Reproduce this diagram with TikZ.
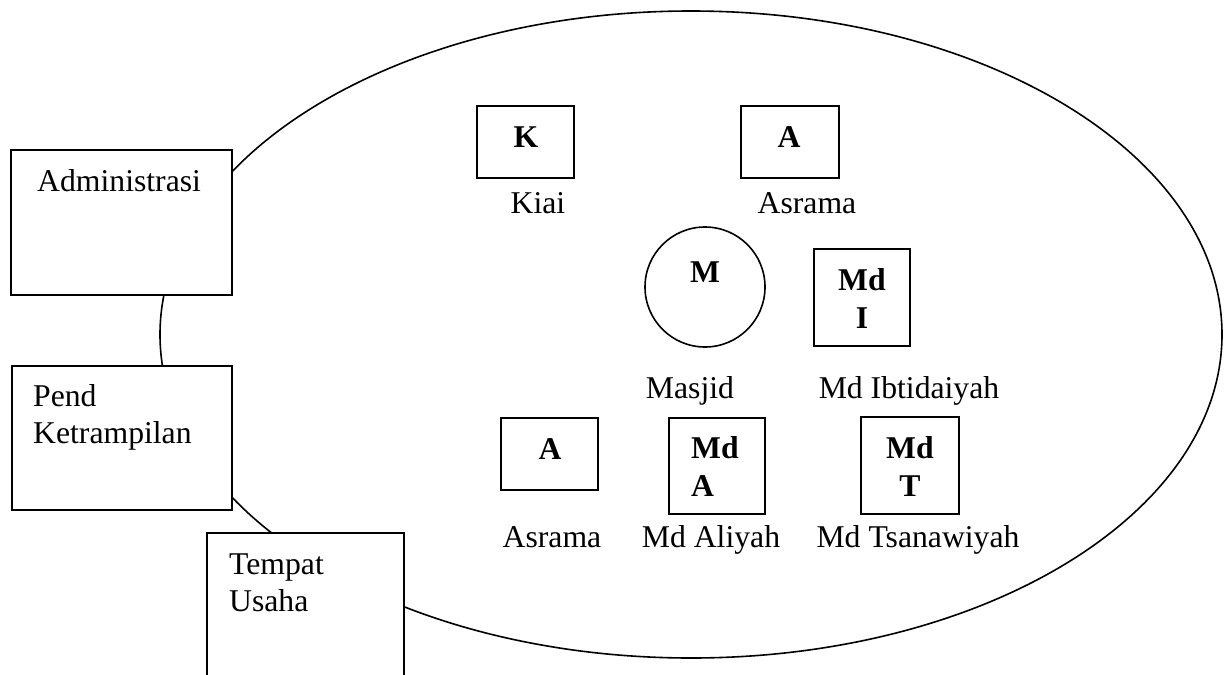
\documentclass[tikz,border=0pt]{standalone}
\usepackage{fontspec}
\setmainfont{Liberation Serif}
\usetikzlibrary{shapes.geometric}
\begin{document}
\begin{tikzpicture}[x=1pt,y=-1pt,
  outline/.style={draw, line width=1.6pt, inner sep=0pt},
  box/.style={outline, fill=white, minimum width=97pt, minimum height=72pt},
  tallbox/.style={box, minimum height=97pt},
  sidebox/.style={outline, fill=white},
  lbl/.style={inner sep=0pt, font=\fontsize{31.7}{37.5}\selectfont},
  blbl/.style={inner sep=0pt, font=\fontsize{31.7}{38}\selectfont\bfseries},
]
\useasboundingbox (0,0) rectangle (1227,675);
\clip (0,0) rectangle (1227,675);
\fill[white] (0,0) rectangle (1227,675);

% the big ellipse (pondok area)
\node[outline, ellipse, minimum width=1062pt, minimum height=647pt] (campus) at (691,334.5) {};

% outside boxes
\node[sidebox, minimum width=221pt, minimum height=145pt] (admin) at (121.5,222.5) {};
\node[sidebox, minimum width=220pt, minimum height=144pt] (pend) at (122,438) {};
\node[sidebox, minimum width=197pt, minimum height=180pt] (tempat) at (305.5,623) {};

\node[lbl, anchor=base west] (admint) at (37,191) {Administrasi};
\node[lbl, anchor=base west] (pendt) at (33,406) {\begin{tabular}[t]{@{}l@{}}Pend\\Ketrampilan\end{tabular}};
\node[lbl, anchor=base west] (tempatt) at (229,574) {\begin{tabular}[t]{@{}l@{}}Tempat\\Usaha\end{tabular}};

% inner items
\node[box] (kiai) at (525.5,142) {};
\node[blbl, anchor=base] (kiaik) at (526,147) {K};
\node[lbl, anchor=base] (kiait) at (538,213) {Kiai};

\node[box, minimum width=98pt] (asr1) at (790,142) {};
\node[blbl, anchor=base] (asr1a) at (789,147) {A};
\node[lbl, anchor=base] (asr1t) at (807,213) {Asrama};

\node[outline, circle, minimum size=120pt] (masjid) at (705,287) {};
\node[blbl, anchor=base] (masjidm) at (705,282) {M};
\node[lbl, anchor=base] (masjidt) at (690,398) {Masjid};

\node[tallbox, minimum width=96pt] (mdi) at (862,297.5) {};
\node[blbl, anchor=base] (mdii) at (862,290) {\begin{tabular}[t]{@{}c@{}}Md\\I\end{tabular}};
\node[lbl, anchor=base] (mdit) at (909,398) {Md Ibtidaiyah};

\node[box] (asr2) at (549.5,454) {};
\node[blbl, anchor=base] (asr2a) at (550,459) {A};
\node[lbl, anchor=base] (asr2t) at (552,547) {Asrama};

\node[tallbox, minimum width=96pt, minimum height=96pt] (mda) at (717,466) {};
\node[blbl, anchor=base west] (mdaa) at (691,458) {\begin{tabular}[t]{@{}l@{}}Md\\A\end{tabular}};
\node[lbl, anchor=base] (mdat) at (711,547) {Md Aliyah};

\node[tallbox, minimum width=98pt] (mdt) at (910,465.5) {};
\node[blbl, anchor=base] (mdtt) at (910,458) {\begin{tabular}[t]{@{}c@{}}Md\\T\end{tabular}};
\node[lbl, anchor=base] (mdtl) at (918,547) {Md Tsanawiyah};
\end{tikzpicture}
\end{document}
